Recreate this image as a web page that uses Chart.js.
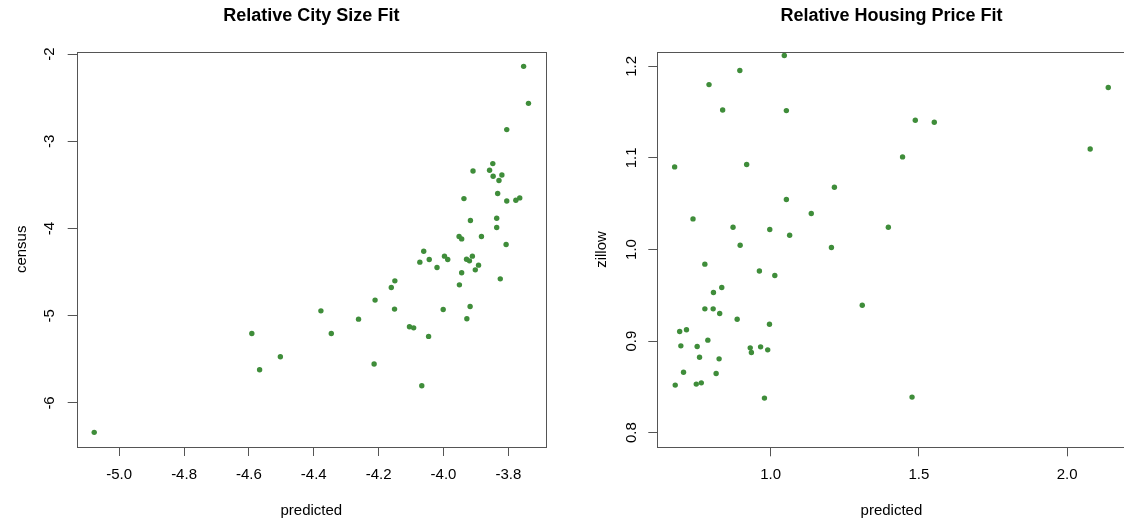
<!DOCTYPE html>
<html><head><meta charset="utf-8">
<script src="https://cdn.jsdelivr.net/npm/chart.js@4.4.1/dist/chart.umd.min.js"></script>
<style>
html,body{margin:0;padding:0;background:#fff;overflow:hidden;width:1124px;height:525px;}
#wrap{position:relative;width:1124px;height:525px;overflow:hidden;background:#fff;}
canvas{position:absolute;top:0;}
#c1{left:0px}
#c2{left:580px}
</style></head>
<body><div id="wrap"><canvas id="c1" width="580" height="525"></canvas><canvas id="c2" width="580" height="525"></canvas></div>
<script>
// ---- Left panel: Relative City Size Fit ----
const cityPredicted = [-3.753,-3.738,-3.805,-3.848,-3.909,-3.858,-3.847,-3.820,-3.829,-3.833,
  -3.937,-3.805,-3.777,-3.765,-3.917,-3.836,-3.836,-3.952,-3.944,-3.883,
  -3.807,-4.061,-4.073,-4.044,-4.020,-3.997,-3.987,-3.929,-3.920,-3.911,
  -3.892,-3.902,-3.944,-3.951,-3.825,-4.150,-4.161,-4.211,-4.151,-4.001,
  -3.918,-3.928,-4.378,-4.262,-4.105,-4.092,-4.046,-4.591,-4.346,-4.503,
  -4.567,-4.214,-4.067,-5.077];
const cityCensus = [-2.141,-2.565,-2.866,-3.256,-3.340,-3.332,-3.401,-3.386,-3.450,-3.599,
  -3.657,-3.684,-3.676,-3.649,-3.909,-3.882,-3.989,-4.092,-4.119,-4.092,
  -4.183,-4.260,-4.386,-4.355,-4.447,-4.317,-4.355,-4.352,-4.371,-4.317,
  -4.420,-4.474,-4.508,-4.646,-4.577,-4.600,-4.676,-4.821,-4.924,-4.928,
  -4.894,-5.035,-4.944,-5.039,-5.127,-5.139,-5.237,-5.203,-5.203,-5.471,
  -5.620,-5.554,-5.803,-6.337];
const cityXTicks = [-5.0,-4.8,-4.6,-4.4,-4.2,-4.0,-3.8];
const cityXTickLabels = ['-5.0','-4.8','-4.6','-4.4','-4.2','-4.0','-3.8'];
const cityYTicks = [-6,-5,-4,-3,-2];
const cityYTickLabels = ['-6','-5','-4','-3','-2'];
const cityXRange = [-5.131,-3.684];
const cityYRange = [-6.505,-1.973];

// ---- Right panel: Relative Housing Price Fit ----
const pricePredicted = [1.046,0.896,0.792,0.838,1.053,1.488,1.552,2.139,2.078,1.445,
  0.676,0.919,1.215,1.053,1.137,0.738,0.873,1.397,0.997,1.064,
  0.897,1.205,0.778,0.962,1.014,0.835,0.807,0.778,0.806,0.828,
  1.309,0.887,0.996,0.693,0.716,0.788,0.697,0.752,0.931,0.966,
  0.935,0.990,0.760,0.826,0.706,0.816,0.678,0.749,0.766,0.979,1.477];
const priceZillow = [1.2118,1.1954,1.1801,1.1524,1.1517,1.1412,1.1390,1.1769,1.1098,1.1011,
  1.0902,1.0928,1.0680,1.0546,1.0393,1.0334,1.0243,1.0243,1.0218,1.0156,
  1.0047,1.0022,0.9840,0.9766,0.9716,0.9585,0.9531,0.9352,0.9352,0.9301,
  0.9392,0.9239,0.9184,0.9105,0.9123,0.9010,0.8948,0.8941,0.8926,0.8937,
  0.8876,0.8904,0.8824,0.8806,0.8660,0.8646,0.8519,0.8530,0.8544,0.8377,0.8388];
const priceXTicks = [1.0,1.5,2.0];
const priceXTickLabels = ['1.0','1.5','2.0'];
const priceYTicks = [0.8,0.9,1.0,1.1,1.2];
const priceYTickLabels = ['0.8','0.9','1.0','1.1','1.2'];
const priceXRange = [0.6175,2.1975];
const priceYRange = [0.784,1.216];

Chart.defaults.font.family = '"Liberation Sans", Arial, Helvetica, sans-serif';
Chart.defaults.color = '#000';

const boxPlugin = {
  id: 'plotBox',
  beforeDatasetsDraw(chart) {
    const a = chart.chartArea, ctx = chart.ctx;
    ctx.save();
    ctx.strokeStyle = '#555';
    ctx.lineWidth = 1;
    const l = Math.round(a.left) + 0.5, t = Math.round(a.top) + 0.5;
    const r = Math.round(a.right) + 0.5, b = Math.round(a.bottom) + 0.5;
    ctx.strokeRect(l, t, r - l, b - t);
    ctx.restore();
  }
};

function makeChart(id, cfg) {
  const pts = cfg.xs.map((x, i) => ({x: x, y: cfg.ys[i]}));
  return new Chart(document.getElementById(id), {
    type: 'scatter',
    data: { datasets: [{ data: pts, backgroundColor: '#3f8d3a', borderWidth: 0, pointRadius: 2.7, pointHoverRadius: 2.7 }] },
    plugins: [boxPlugin],
    options: {
      responsive: false, animation: false, devicePixelRatio: 1,
      layout: { padding: { left: 0, right: cfg.padRight, top: 0, bottom: 0 } },
      plugins: {
        legend: { display: false }, tooltip: { enabled: false },
        title: { display: true, text: cfg.title, fullSize: false, color: '#000',
          font: { size: 18, weight: 'bold', lineHeight: 1.2 }, padding: { top: 5.7, bottom: 24.4 } }
      },
      scales: {
        x: {
          type: 'linear', position: 'bottom', min: cfg.xRange[0], max: cfg.xRange[1],
          afterBuildTicks: s => { s.ticks = cfg.xTicks.map(v => ({value: v})); },
          afterFit: s => { s.height = cfg.xHeight; },
          ticks: { autoSkip: false, maxRotation: 0, minRotation: 0, padding: 10, color: '#000',
            font: { size: 15 }, callback: (v, i) => cfg.xLabels[i] },
          grid: { display: true, drawOnChartArea: false, drawTicks: true, tickLength: 9, color: '#555', lineWidth: 1 },
          border: { display: false },
          title: { display: true, text: 'predicted', color: '#000', font: { size: 15, lineHeight: 1.2 }, padding: { top: 0, bottom: 5.5 } }
        },
        y: {
          type: 'linear', position: 'left', min: cfg.yRange[0], max: cfg.yRange[1],
          afterBuildTicks: s => { s.ticks = cfg.yTicks.map(v => ({value: v})); },
          afterFit: s => { s.width = cfg.yWidth; },
          ticks: { autoSkip: false, minRotation: 90, maxRotation: 90, crossAlign: 'center', padding: cfg.yPad, color: '#000',
            font: { size: 15 }, callback: (v, i) => cfg.yLabels[i] },
          grid: { display: true, drawOnChartArea: false, drawTicks: true, tickLength: 9, color: '#555', lineWidth: 1 },
          border: { display: false },
          title: { display: true, text: cfg.yTitle, color: '#000', font: { size: 15, lineHeight: 1.2 }, padding: { top: 12.5, bottom: 0 } }
        }
      }
    }
  });
}

makeChart('c1', {
  xs: cityPredicted, ys: cityCensus, title: 'Relative City Size Fit', yTitle: 'census',
  xRange: cityXRange, yRange: cityYRange, xTicks: cityXTicks, xLabels: cityXTickLabels,
  yTicks: cityYTicks, yLabels: cityYTickLabels, padRight: 34, yWidth: 76.7, xHeight: 78, yPad: 11
});
makeChart('c2', {
  xs: pricePredicted, ys: priceZillow, title: 'Relative Housing Price Fit', yTitle: 'zillow',
  xRange: priceXRange, yRange: priceYRange, xTicks: priceXTicks, xLabels: priceXTickLabels,
  yTicks: priceYTicks, yLabels: priceYTickLabels, padRight: 34.4, yWidth: 77.3, xHeight: 77.7, yPad: 6
});
</script>
</body></html>
